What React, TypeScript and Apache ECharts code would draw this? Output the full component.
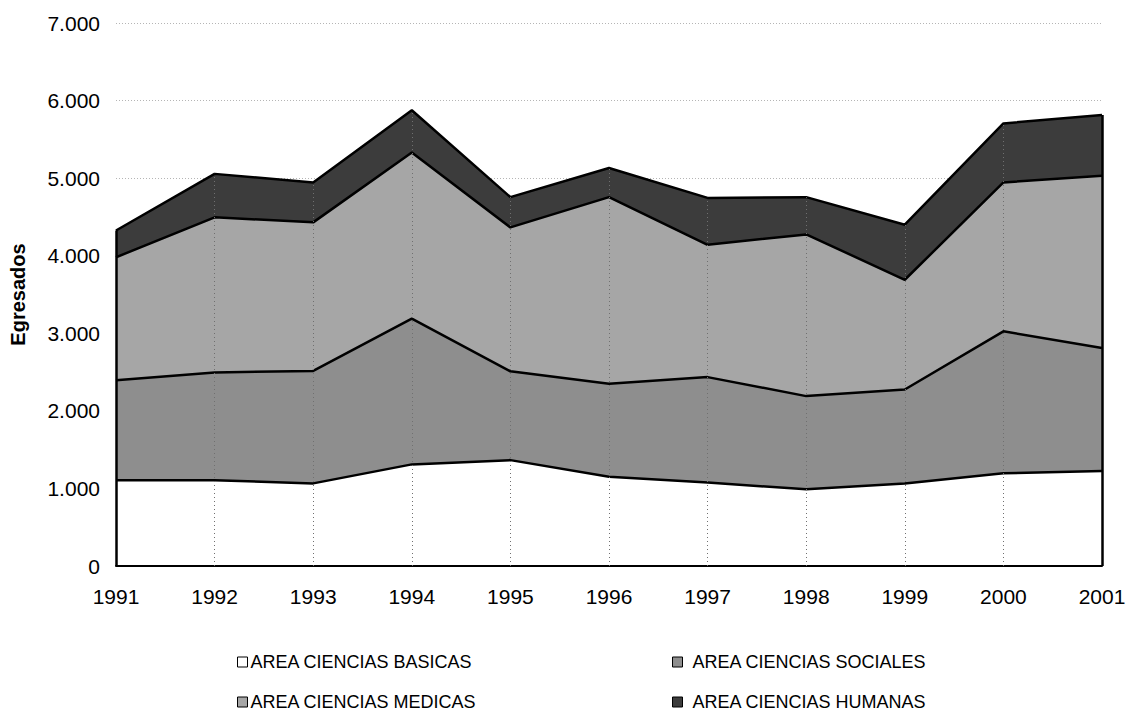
import React, { useEffect, useRef } from "react";
import * as echarts from "echarts";

const years = ["1991", "1992", "1993", "1994", "1995", "1996", "1997", "1998", "1999", "2000", "2001"];
const basicas = [1105, 1105, 1065, 1310, 1365, 1150, 1075, 990, 1065, 1195, 1225];
const sociales = [1290, 1390, 1450, 1880, 1145, 1200, 1360, 1200, 1210, 1830, 1585];
const medicas = [1585, 2000, 1915, 2140, 1855, 2405, 1705, 2085, 1415, 1920, 2220];
const humanas = [345, 560, 515, 545, 390, 375, 605, 480, 710, 760, 785];

const names = [
  "AREA CIENCIAS BASICAS",
  "AREA CIENCIAS SOCIALES",
  "AREA CIENCIAS MEDICAS",
  "AREA CIENCIAS HUMANAS",
];
const colors = ["#ffffff", "#8e8e8e", "#a6a6a6", "#3c3c3c"];

export default function App() {
  const ref = useRef<HTMLDivElement>(null);
  useEffect(() => {
    document.body.style.margin = "0";
    const chart = echarts.init(ref.current!, null, { renderer: "svg" });
    const series = [basicas, sociales, medicas, humanas];
    const totals = years.map((_, i) => series.reduce((s, arr) => s + arr[i], 0));
    const last = years.length - 1;

    const legendPos = [
      { left: 237, top: 653, pad: -2 },
      { left: 672, top: 653, pad: 5 },
      { left: 237, top: 693, pad: -2 },
      { left: 672, top: 693, pad: 5 },
    ];
    const legends = names.map((n, i) => ({
      data: [n],
      left: legendPos[i].left,
      top: legendPos[i].top,
      padding: 0,
      itemWidth: 10,
      itemHeight: 10,
      icon: "rect",
      itemStyle: { borderColor: "#000", borderWidth: 1 },
      textStyle: {
        fontFamily: "'Liberation Sans', Arial, sans-serif",
        fontSize: 18,
        color: "#000",
        padding: [0, 0, 0, legendPos[i].pad],
      },
    }));

    const vLines: any[] = years.map((y, i) => {
      const edge = i === 0 || i === last;
      return [
        {
          coord: [y, 0],
          lineStyle: edge
            ? { color: "#000", width: 2.5, type: "solid" }
            : { color: "#707070", width: 1, type: [1, 3] },
        },
        { coord: [y, totals[i]] },
      ];
    });

    chart.setOption({
      animation: false,
      backgroundColor: "#ffffff",
      textStyle: { fontFamily: "'Liberation Sans', Arial, sans-serif", color: "#000" },
      grid: { left: 113, right: 33, top: 23, bottom: 151, containLabel: false },
      legend: legends,
      xAxis: {
        type: "category",
        data: years,
        boundaryGap: false,
        z: 3,
        axisLine: { show: true, lineStyle: { color: "#000", width: 2 } },
        axisTick: { show: false },
        axisLabel: { fontSize: 21, color: "#000", margin: 20 },
        splitLine: { show: false },
      },
      yAxis: {
        type: "value",
        min: 0,
        max: 7000,
        interval: 1000,
        name: "Egresados",
        nameLocation: "middle",
        nameRotate: 90,
        nameGap: 88,
        nameTextStyle: { fontSize: 20, fontWeight: "bold", color: "#000" },
        axisLine: { show: false },
        axisTick: { show: false },
        axisLabel: {
          fontSize: 21,
          color: "#000",
          margin: 16,
          formatter: (v: number) => String(v).replace(/\B(?=(\d{3})+(?!\d))/g, "."),
        },
        splitLine: { show: true, lineStyle: { color: "#b5b5b5", type: [1, 2], width: 1 } },
      },
      series: series.map((arr, i) => ({
        name: names[i],
        type: "line",
        stack: "total",
        data: arr,
        symbol: "none",
        itemStyle: { color: colors[i] },
        lineStyle: { color: "#000", width: 2.5 },
        areaStyle: { color: colors[i], opacity: 1 },
        z: 2,
        markLine:
          i === 3
            ? {
                silent: true,
                symbol: "none",
                label: { show: false },
                data: vLines,
              }
            : undefined,
      })),
    });
    return () => chart.dispose();
  }, []);
  return <div ref={ref} style={{ width: 1135, height: 717 }} />;
}
